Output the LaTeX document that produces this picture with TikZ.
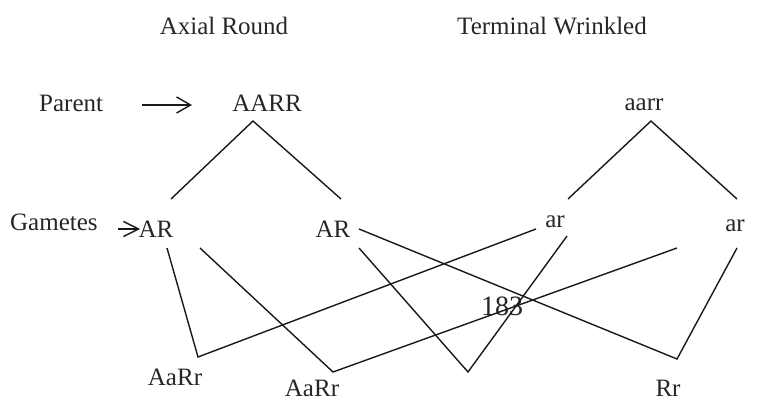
\documentclass[tikz,border=0pt]{standalone}
\usepackage{fontspec}
\setmainfont{Liberation Serif}
\usetikzlibrary{arrows.meta}
\begin{document}
\begin{tikzpicture}[x=1pt,y=-1pt,
  lbl/.style={inner sep=0pt,anchor=base,font=\fontsize{25}{30}\selectfont,text=black!85},
  big/.style={lbl,font=\fontsize{28}{32}\selectfont},
  ln/.style={line width=1.4pt,black!90},
  arr/.style={ln,-{Straight Barb[length=14pt,width=16pt,line width=1.4pt]}}]
\useasboundingbox (0,0) rectangle (769,401);
% titles
\node[lbl] (t1) at (224,35) {Axial Round};
\node[lbl] (t2) at (552,35) {Terminal Wrinkled};
% parents
\node[lbl,anchor=base west] (parent) at (39,112) {Parent};
\node[lbl] (AARR) at (267,112) {AARR};
\node[lbl] (aarr) at (644,111) {aarr};
\coordinate (pa1) at (142,105);
\coordinate (pa2) at (192,105);
\draw[arr] (pa1) -- (pa2);
% gametes
\node[lbl,anchor=base west] (gam) at (10,230) {Gametes};
\node[lbl] (AR1) at (156,237) {AR};
\node[lbl] (AR2) at (333,237) {AR};
\node[lbl] (ar1) at (555,228) {ar};
\node[lbl] (ar2) at (735,231) {ar};
\coordinate (ga1) at (118,229);
\coordinate (ga2) at (140,229);
\draw[ln,-{Straight Barb[length=15pt,width=15pt,line width=1.4pt]}] (ga1) -- (ga2);
% tree from parents
\coordinate (apexL) at (253,121);
\coordinate (apexR) at (651,121);
\draw[ln] (171,199) -- (apexL) -- (341,199);
\draw[ln] (568,199) -- (apexR) -- (737,199);
% offspring
\node[lbl] (o1) at (175,385) {AaRr};
\node[lbl] (o2) at (312,396) {AaRr};
\node[lbl] (o4) at (668,396) {Rr};
\node[big] (n183) at (502,315) {183};
\coordinate (v1) at (198,357);
\coordinate (v2) at (333,372);
\coordinate (v3) at (468,372);
\coordinate (v4) at (677,359);
\draw[ln] (167,248) -- (v1) -- (536,229);
\draw[ln] (200,248) -- (v2) -- (677,248);
\draw[ln] (359,248) -- (v3) -- (567,236);
\draw[ln] (359,229) -- (v4) -- (737,248);
\end{tikzpicture}
\end{document}
